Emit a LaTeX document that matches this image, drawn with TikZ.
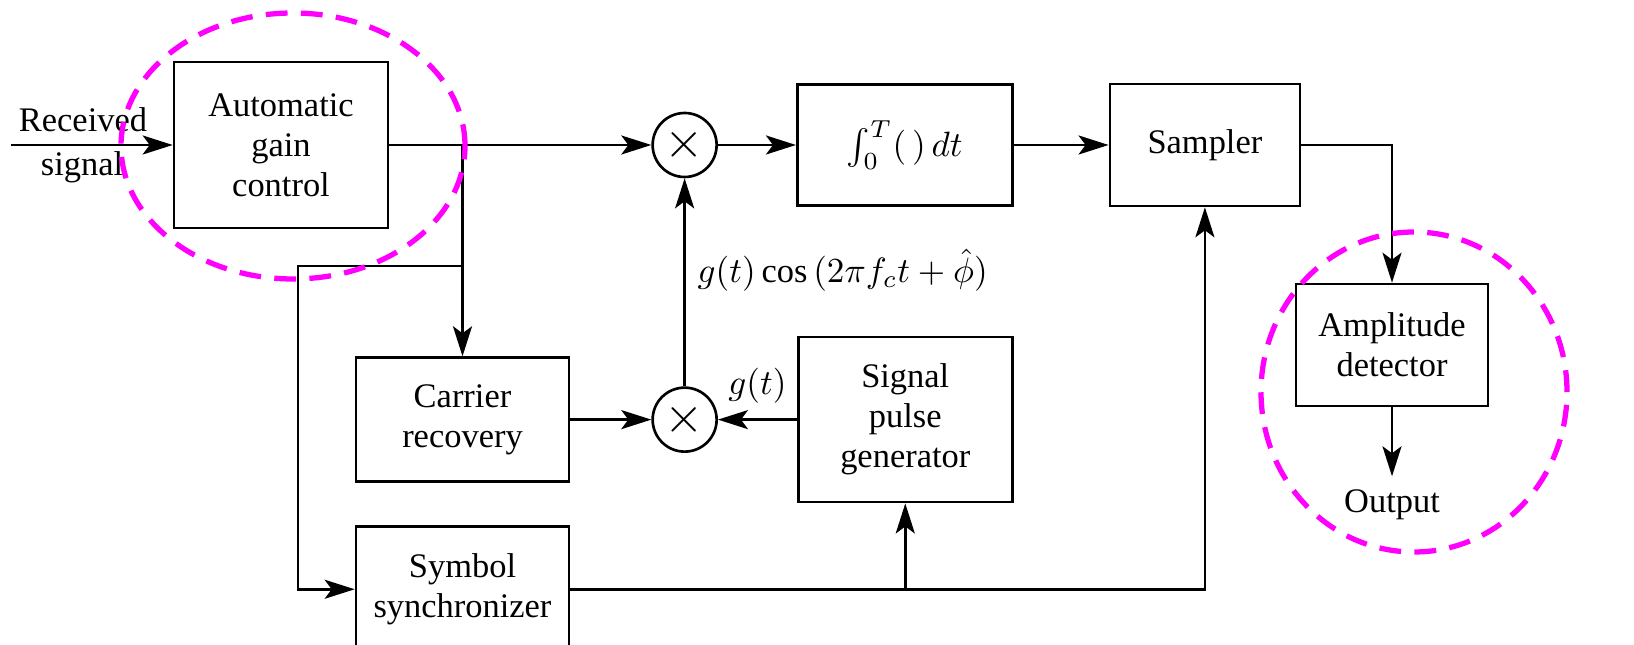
\documentclass[tikz,border=0pt]{standalone}
\usepackage{fontspec}
\setmainfont{Liberation Serif}
\usepackage{xcolor}
\usetikzlibrary{arrows.meta,positioning}
\definecolor{hilitepink}{RGB}{255,0,255}

\begin{document}
\begin{tikzpicture}[
  line width=0.75pt,
  every node/.style={font=\fontsize{9.8}{11.4}\selectfont},
  block/.style={draw, align=center, inner sep=2pt},
  mixer/.style={draw, circle, minimum size=6.4mm, inner sep=0pt, font=\Large},
  arrow/.style={-{Stealth[length=3mm, width=1.9mm, inset=0.7mm]}},
  hilite/.style={draw=hilitepink, line width=1.5pt, dash pattern=on 6.2pt off 3.8pt}
]
\useasboundingbox (0,0) rectangle (16.34,-6.45);

% top row
\node[block, minimum width=21.4mm, minimum height=16.6mm] (agc) at (2.81,-1.45)
  {Automatic\\gain\\control};
\node[mixer, right=2.62cm of agc] (m1) {$\times$};
\node[block, minimum width=21.5mm, minimum height=12.1mm, right=0.78cm of m1] (intg)
  {$\int_0^T(\,)\,dt$};
\node[block, minimum width=19mm, minimum height=12.2mm, right=0.95cm of intg] (samp)
  {Sampler};

% middle row
\node[mixer, below=2.08cm of m1] (m2) {$\times$};
\node[block, minimum width=21.3mm, minimum height=12.4mm, left=0.81cm of m2] (carrier)
  {Carrier\\recovery};
\node[block, minimum width=21.4mm, minimum height=16.5mm, right=0.79cm of m2] (spg)
  {Signal\\pulse\\generator};
\node[block, minimum width=21.3mm, minimum height=12.6mm, below=0.42cm of carrier] (sync)
  {Symbol\\synchronizer};

% output side
\node[block, minimum width=19.2mm, minimum height=12.2mm] (amp) at (13.92,-3.45)
  {Amplitude\\detector};
\node[below=0.69cm of amp] (out) {Output};

% input
\coordinate (in) at (0.11,-1.45);
\node (rx1) at (0.83,-1.20) {Received};
\node (rx2) at (0.82,-1.67) {signal};

\coordinate (br) at (carrier.north |- agc.east);
\coordinate (fb) at (2.98,-2.66);

\draw[arrow] (in) -- (agc.west);
\draw[arrow] (agc.east) -- (m1.west);
\draw[arrow] (br) -- (carrier.north);
\draw[arrow] (carrier.north |- fb) -- (fb) |- (sync.west);
\draw[arrow] (carrier.east) -- (m2.west);
\draw[arrow] (spg.west) -- node[above=1pt] {$g(t)$} (m2.east);
\draw[arrow] (m2.north) -- node[right, pos=0.56] {$g(t)\cos{(2\pi f_c t+\hat{\phi})}$} (m1.south);
\draw[arrow] (m1.east) -- (intg.west);
\draw[arrow] (intg.east) -- (samp.west);
\draw[arrow] (samp.east) -| (amp.north);
\draw[arrow] (amp.south) -- (out);
\draw[arrow] (sync.east) -| (samp.south);
\draw[arrow] (spg.south |- sync.east) -- (spg.south);

% highlights
\draw[hilite] (2.93,-1.46) ellipse [x radius=1.72, y radius=1.33];
\draw[hilite] (14.14,-3.92) ellipse [x radius=1.53, y radius=1.60];
\end{tikzpicture}
\end{document}
